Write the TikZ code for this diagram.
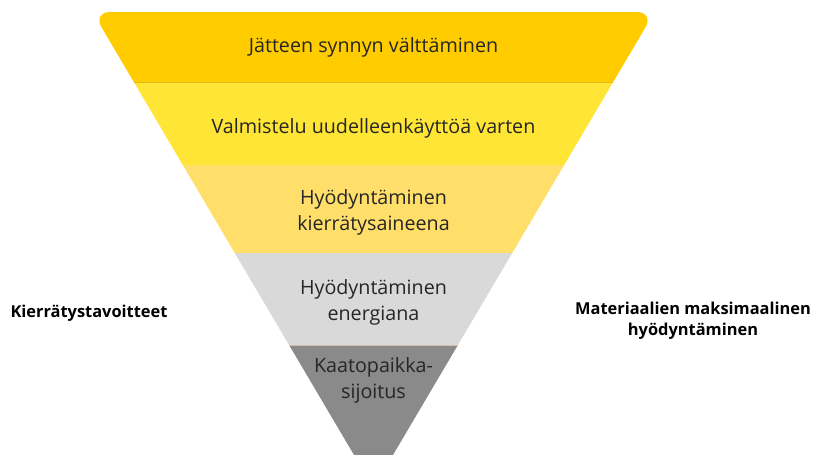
\documentclass[tikz,border=0pt]{standalone}
\usepackage{fontspec}
\setmainfont{Open Sans}
\begin{document}
\begin{tikzpicture}[x=1pt,y=-1pt,
  lbl/.style={font=\fontsize{19.7}{26}\selectfont, text=black!85, align=center},
  side/.style={font=\bfseries\fontsize{16.4}{21}\selectfont, text=black, align=center}]
\definecolor{c1}{HTML}{FFCC00}
\definecolor{c2}{HTML}{FFE535}
\definecolor{c3}{HTML}{FFDE6A}
\definecolor{c4}{HTML}{D9D9D9}
\definecolor{c5}{HTML}{8A8A8A}
\useasboundingbox (0,0) rectangle (814,455);
\clip (0,0) rectangle (814,455);
\coordinate (tl) at (92.5,12);
\coordinate (tr) at (654.5,12);
\coordinate (ap) at (373.5,488);
\begin{scope}
  \clip[rounded corners=18pt] (tl) -- (tr) -- (ap) -- cycle;
  \fill[c1] (0,0) rectangle (814,82);
  \fill[c2] (0,82) rectangle (814,165);
  \fill[c3] (0,165) rectangle (814,253);
  \fill[c4] (0,253) rectangle (814,345);
  \fill[c5] (0,345) rectangle (814,500);
  \draw[c1!80!black!60!c2, line width=0.6pt] (0,82) -- (814,82);
  \draw[brown!30!c4, line width=1pt] (0,345.5) -- (814,345.5);
\end{scope}
\node[lbl] (b1) at (373.5,47) {Jätteen synnyn välttäminen};
\node[lbl] (b2) at (373.5,128) {Valmistelu uudelleenkäyttöä varten};
\node[lbl] (b3) at (373.5,212) {Hyödyntäminen\\kierrätysaineena};
\node[lbl] (b4) at (373.5,302) {Hyödyntäminen\\energiana};
\node[lbl] (b5) at (373.5,380) {Kaatopaikka-\\sijoitus};
\node[side] (l) at (89,313) {Kierrätystavoitteet};
\node[side] (r) at (693,321) {Materiaalien maksimaalinen\\hyödyntäminen};
\end{tikzpicture}
\end{document}
